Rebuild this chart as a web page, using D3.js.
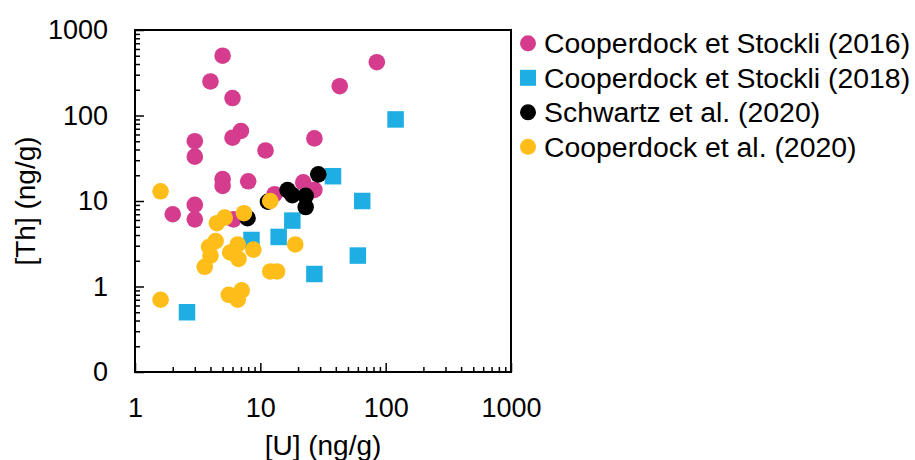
<!DOCTYPE html>
<html>
<head>
<meta charset="utf-8">
<script src="https://cdn.jsdelivr.net/npm/d3@7"></script>
<style>
  html, body { margin: 0; padding: 0; background: #fff; }
  svg { display: block; }
  text { font-family: "Liberation Sans", Arial, sans-serif; fill: #000; }
</style>
</head>
<body>
<svg id="chart" width="915" height="460"></svg>
<script>
// ---- data ----
const seriesNames = ["Cooperdock et Stockli (2016)", "Cooperdock et Stockli (2018)", "Schwartz et al. (2020)", "Cooperdock et al. (2020)"];
const seriesColors = ["#D63C8E", "#1FAEE4", "#000000", "#FFBD19"];
const seriesShapes = ["circle", "square", "circle", "circle"];

const cs2016U  = [5, 4, 6, 85, 43, 7, 6, 3, 3, 11, 27, 5, 5, 8, 3, 3, 2, 6.1, 13, 22, 27];
const cs2016Th = [500, 250, 160, 420, 220, 66, 55, 50, 33, 39, 54, 18, 15, 17, 9, 6.1, 7, 6.1, 12, 16.5, 13.5];

const cs2018U  = [120, 38, 65, 18, 14, 8.5, 60, 27, 2.6];
const cs2018Th = [90, 19.5, 10, 5.9, 3.8, 3.5, 2.3, 1.4, 0.5];

const schwartzU  = [29, 16.5, 18, 23, 23, 7.9, 11.5];
const schwartzTh = [20.5, 13.4, 11.7, 11.5, 8.5, 6.3, 9.8];

const coop2020U  = [1.6, 1.6, 12, 7.4, 5.2, 4.5, 4.4, 3.9, 4, 3.6, 6.6, 5.75, 6.7, 8.8, 19, 12, 13.6, 5.6, 7.1, 6.6];
const coop2020Th = [13, 0.7, 10, 7.2, 6.4, 5.5, 3.4, 2.9, 2.3, 1.7, 3.1, 2.5, 2.1, 2.7, 3.1, 1.5, 1.5, 0.8, 0.9, 0.7];

const xTickValues = [1, 10, 100, 1000];
const xTickLabels = ["1", "10", "100", "1000"];
const yTickValues = [0.1, 1, 10, 100, 1000];
const yTickLabels = ["0", "1", "10", "100", "1000"];

const xTitle = "[U] (ng/g)";
const yTitle = "[Th] (ng/g)";

// ---- build ----
const seriesU  = [cs2016U, cs2018U, schwartzU, coop2020U];
const seriesTh = [cs2016Th, cs2018Th, schwartzTh, coop2020Th];
const series = seriesNames.map((name, i) => ({
  name, color: seriesColors[i], shape: seriesShapes[i],
  points: seriesU[i].map((u, j) => ({ u, th: seriesTh[i][j] }))
}));

const svg = d3.select("#chart");
const L = 135, R = 511, T = 30, B = 372;

const x = d3.scaleLog().domain([1, 1000]).range([L, R]);
const y = d3.scaleLog().domain([0.1, 1000]).range([B, T]);

const fontTick = 27;

// minor ticks
const xMinor = x.ticks().filter(v => !xTickValues.includes(v));
const yMinor = y.ticks().filter(v => !yTickValues.some(t => Math.abs(t - v) < 1e-9));

const xMinorAxis = d3.axisBottom(x).tickValues(xMinor).tickSize(-5).tickFormat("");
const yMinorAxis = d3.axisLeft(y).tickValues(yMinor).tickSize(-5).tickFormat("");

svg.append("g").attr("transform", `translate(0,${B})`).call(xMinorAxis)
  .call(g => g.select(".domain").remove())
  .call(g => g.selectAll("line").attr("stroke", "#000").attr("stroke-width", 1.5));
svg.append("g").attr("transform", `translate(${L},0)`).call(yMinorAxis)
  .call(g => g.select(".domain").remove())
  .call(g => g.selectAll("line").attr("stroke", "#000").attr("stroke-width", 1.5));

const xAxis = d3.axisBottom(x).tickValues(xTickValues).tickSize(-9).tickPadding(26)
  .tickFormat((d, i) => xTickLabels[i]);
const yAxis = d3.axisLeft(y).tickValues(yTickValues).tickSize(-9).tickPadding(27)
  .tickFormat((d, i) => yTickLabels[i]);

svg.append("g").attr("transform", `translate(0,${B})`).call(xAxis)
  .call(g => g.select(".domain").remove())
  .call(g => g.selectAll("line").attr("stroke", "#000").attr("stroke-width", 1.5))
  .call(g => g.selectAll("text").attr("font-size", fontTick).attr("fill", "#000")
    .style("font-family", '"Liberation Sans", Arial, sans-serif'));
svg.append("g").attr("transform", `translate(${L},0)`).call(yAxis)
  .call(g => g.select(".domain").remove())
  .call(g => g.selectAll("line").attr("stroke", "#000").attr("stroke-width", 1.5))
  .call(g => g.selectAll("text").attr("font-size", fontTick).attr("fill", "#000")
    .style("font-family", '"Liberation Sans", Arial, sans-serif'));

// frame
svg.append("rect").attr("x", L).attr("y", T).attr("width", R - L).attr("height", B - T)
  .attr("fill", "none").attr("stroke", "#000").attr("stroke-width", 2);

// points
const r = 8.3, sq = 16.5;
series.forEach(s => {
  const g = svg.append("g");
  if (s.shape === "circle") {
    g.selectAll("circle").data(s.points).join("circle")
      .attr("cx", d => x(d.u)).attr("cy", d => y(d.th)).attr("r", r).attr("fill", s.color);
  } else {
    g.selectAll("rect").data(s.points).join("rect")
      .attr("x", d => x(d.u) - sq / 2).attr("y", d => y(d.th) - sq / 2)
      .attr("width", sq).attr("height", sq).attr("fill", s.color);
  }
});

// axis titles
svg.append("text").attr("x", (L + R) / 2).attr("y", 455).attr("text-anchor", "middle")
  .attr("font-size", 28).text(xTitle);
svg.append("text").attr("transform", `translate(35,${(T + B) / 2}) rotate(-90)`)
  .attr("text-anchor", "middle").attr("font-size", 28).text(yTitle);

// legend
const lg = svg.append("g");
series.forEach((s, i) => {
  const base = 53.3 + i * 34.5;
  const cy = base - 10;
  if (s.shape === "circle") {
    lg.append("circle").attr("cx", 528).attr("cy", cy).attr("r", 8).attr("fill", s.color);
  } else {
    lg.append("rect").attr("x", 520).attr("y", cy - 8).attr("width", 16).attr("height", 16).attr("fill", s.color);
  }
  lg.append("text").attr("x", 544).attr("y", base).attr("font-size", 28.4).text(s.name);
});
</script>
</body>
</html>
